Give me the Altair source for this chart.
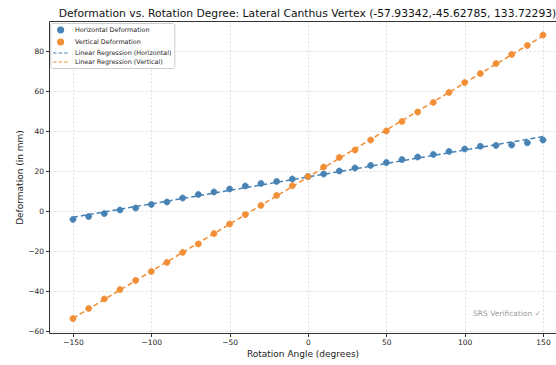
import altair as alt
import pandas as pd

# ---- data ----
angles = list(range(-150, 151, 10))
horizontal = [-4.2, -2.8, -1.3, 0.5, 1.5, 3.3, 4.5, 6.5, 8.3, 9.5, 11.0, 12.5, 13.8, 14.8, 16.0,
              17.2, 18.5, 20.0, 21.5, 22.8, 24.2, 25.7, 27.0, 28.3, 29.8, 31.0, 32.4, 32.8, 33.0, 34.1, 35.5]
vertical = [-53.8, -48.8, -44.0, -39.3, -34.7, -30.2, -25.7, -20.7, -16.5, -11.3, -6.5, -1.8, 2.8, 7.8, 12.6,
            17.2, 22.0, 26.8, 30.5, 35.5, 40.0, 44.8, 49.5, 54.3, 59.3, 64.2, 68.7, 73.7, 78.2, 82.8, 88.0]
series_names = ["Horizontal Deformation", "Vertical Deformation"]
legend_labels = ["Horizontal Deformation", "Vertical Deformation",
                 "Linear Regression (Horizontal)", "Linear Regression (Vertical)"]
colors = ["#4682b4", "#f28e35"]
x_ticks = [-150, -100, -50, 0, 50, 100, 150]
y_ticks = [-60, -40, -20, 0, 20, 40, 60, 80]
title_text = "Deformation vs. Rotation Degree: Lateral Canthus Vertex (-57.93342,-45.62785, 133.72293)"
x_title = "Rotation Angle (degrees)"
y_title = "Deformation (in mm)"
watermark = "SRS Verification \u2713"

df = pd.DataFrame({
    "angle": angles + angles,
    "value": horizontal + vertical,
    "entry": [series_names[0]] * len(angles) + [series_names[1]] * len(angles),
})

FONT = "DejaVu Sans"
xscale = alt.Scale(domain=[-165.3, 158.3], nice=False, zero=False)
yscale = alt.Scale(domain=[-61, 95], nice=False, zero=False)

yaxis = alt.Axis(values=y_ticks, title=y_title, grid=True, format="d")
xaxis = alt.Axis(values=x_ticks, title=x_title, grid=True, format="d")

leg = alt.Legend(title=None, orient="none", legendX=1.3, legendY=2.0)
leg_colors = colors + colors
SYM = 56  # symbol size: the [-1, 1] box is ~7.5 px
dot = "M-0.8,0A0.8,0.8,0,1,1,0.8,0A0.8,0.8,0,1,1,-0.8,0Z"   # ~6 px dot
dash_line = "M-2,0H2"                                         # ~15 px legend line


def lscale(rng):
    return alt.Scale(domain=legend_labels, range=rng)


points = alt.Chart(df).mark_point(filled=True, opacity=1, strokeWidth=0.8, size=SYM).encode(
    x=alt.X("angle:Q", scale=xscale, axis=xaxis),
    y=alt.Y("value:Q", scale=yscale, axis=yaxis),
    fill=alt.Fill("entry:N", scale=lscale(leg_colors), legend=leg),
    stroke=alt.Stroke("entry:N", scale=lscale(leg_colors), legend=leg),
    shape=alt.Shape("entry:N", scale=lscale([dot, dot, dash_line, dash_line]), legend=leg),
    strokeDash=alt.StrokeDash("entry:N", scale=lscale([[1, 0], [1, 0], [3.5, 2], [3.5, 2]]), legend=leg),
)

reg = alt.Chart(df).transform_regression(
    "angle", "value", groupby=["entry"], extent=[-150, 150]
).mark_line(strokeWidth=1.5, strokeDash=[5, 3]).encode(
    x=alt.X("angle:Q", scale=xscale,
            axis=alt.Axis(orient="top", labels=False, ticks=False, grid=False, title=None, domain=True)),
    y=alt.Y("value:Q", scale=yscale, axis=yaxis),
    color=alt.Color("entry:N", scale=alt.Scale(domain=series_names, range=colors), legend=None),
)

wm = alt.Chart(pd.DataFrame({"t": [watermark]})).mark_text(
    align="right", baseline="middle", fontSize=7.5, font=FONT, color="#9a9a9a"
).encode(text="t:N", x=alt.value(492), y=alt.value(293))

chart = alt.layer(reg, points, wm).resolve_axis(x="independent").properties(
    width=507,
    height=312,
    padding={"left": 49, "top": 21, "right": 0, "bottom": 32},
    autosize=alt.AutoSizeParams(type="none"),
    title=alt.TitleParams(text=title_text, fontSize=10.75, font=FONT, fontWeight="normal",
                          anchor="middle", dx=5, offset=1.3, color="#111111"),
).configure_view(strokeWidth=0).configure_axis(
    labelFont=FONT, labelFontSize=7.5, labelColor="#222222", labelPadding=2,
    titleFont=FONT, titleFontSize=9, titleFontWeight="normal", titleColor="#222222", titlePadding=3,
    tickSize=3.5, tickColor="#333333", domainColor="#333333", domainWidth=1,
    gridColor="#d4d4d4", gridDash=[2, 2], gridWidth=0.8,
).configure_legend(
    padding=2.5, labelFont=FONT, labelFontSize=6.4, labelColor="#222222",
    labelOffset=9.8, symbolOffset=3.3,
    symbolSize=SYM, symbolStrokeWidth=1.2, strokeColor="#cccccc", cornerRadius=2, fillColor="white",
    symbolOpacity=1, rowPadding=1.0,
)

chart.save("out.html", embed_options={"renderer": "svg", "actions": False})
